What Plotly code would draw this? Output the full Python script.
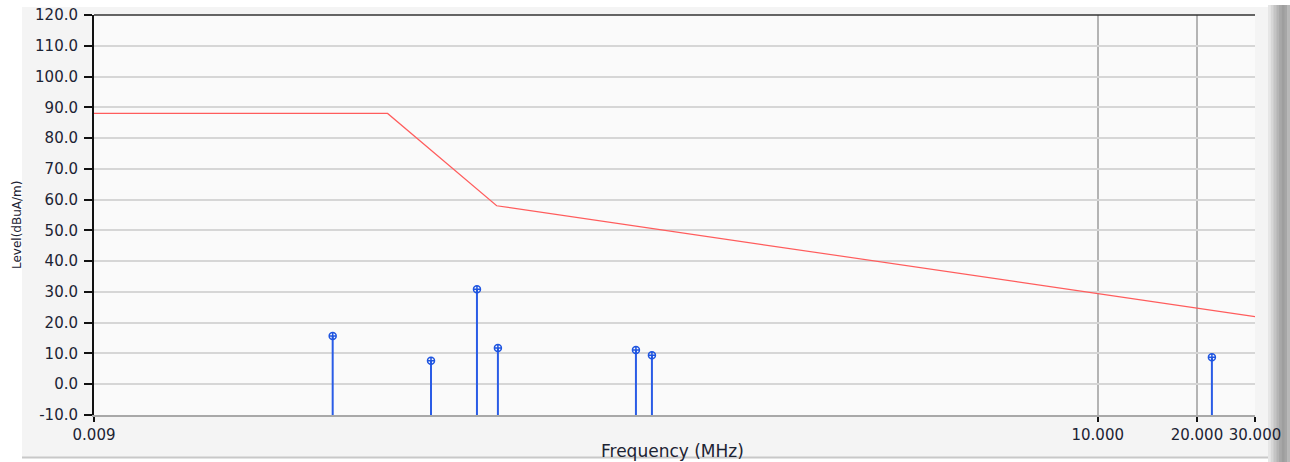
import math
import plotly.graph_objects as go

# ---- data ----
limit_freq = [0.009, 0.07, 0.15, 30.0]
limit_level = [88.0, 88.0, 58.0, 22.0]

peak_freq = [0.0477, 0.0948, 0.1307, 0.1513, 0.3969, 0.4438, 22.2]
peak_level = [15.7, 7.6, 30.9, 11.8, 11.1, 9.4, 8.8]

y_ticks = [-10, 0, 10, 20, 30, 40, 50, 60, 70, 80, 90, 100, 110, 120]
x_ticks = [0.009, 10, 20, 30]
x_tick_labels = ["0.009", "10.000", "20.000", "30.000"]

Y_MIN, Y_MAX = -10, 120
X_MIN, X_MAX = 0.009, 30.0

# ---- figure ----
fig = go.Figure()

# stems
sx, sy = [], []
for f, v in zip(peak_freq, peak_level):
    sx += [f, f, None]
    sy += [Y_MIN, v, None]
fig.add_trace(go.Scatter(x=sx, y=sy, mode="lines",
                         line=dict(color="#2a5ce6", width=2),
                         hoverinfo="skip", showlegend=False))
fig.add_trace(go.Scatter(x=peak_freq, y=peak_level, mode="markers",
                         marker=dict(symbol="circle-cross-open", size=7,
                                     color="#1f55e0", line=dict(width=1.5, color="#1f55e0")),
                         showlegend=False))

# limit line
fig.add_trace(go.Scatter(x=limit_freq, y=limit_level, mode="lines",
                         line=dict(color="#ff5c5c", width=1.2),
                         showlegend=False))

W, H = 1290, 462
L, R, T, B = 94, 35, 15, 47
pw = W - L - R
ph = H - T - B

def px_x(x):
    return (x - L) / pw

def px_y(y):
    return (H - B - y) / ph

tick_font = dict(family="DejaVu Sans, Verdana, sans-serif", size=15, color="#1c2333")

shapes = [
    # panel background
    dict(type="rect", xref="paper", yref="paper", layer="below",
         x0=px_x(22), x1=px_x(1268), y0=px_y(457), y1=px_y(7),
         fillcolor="#f4f4f4", line=dict(width=0)),
    # plot area background
    dict(type="rect", xref="paper", yref="paper", layer="below",
         x0=0, x1=1, y0=0, y1=1,
         fillcolor="#fafafa", line=dict(width=0)),
    # bottom panel line
    dict(type="line", xref="paper", yref="paper", layer="below",
         x0=px_x(22), x1=px_x(1268), y0=px_y(457.5), y1=px_y(457.5),
         line=dict(color="#c8c8c8", width=2)),
    # top border of plot
    dict(type="line", xref="paper", yref="paper",
         x0=0, x1=1, y0=1, y1=1, line=dict(color="#333333", width=1.5)),
]
# right-side gradient strip
grad = ["#e6e6e6", "#d6d6d6", "#c4c4c4", "#b4b4b4", "#a8a8a8", "#9e9e9e", "#a6a6a6", "#b8b8b8"]
x0 = 1268
for i, c in enumerate(grad):
    shapes.append(dict(type="rect", xref="paper", yref="paper", layer="below",
                       x0=px_x(x0 + i * 2.75), x1=px_x(x0 + (i + 1) * 2.75 + 0.5),
                       y0=px_y(462), y1=px_y(5),
                       fillcolor=c, line=dict(width=0)))

fig.update_layout(
    width=W, height=H,
    margin=dict(l=L, r=R, t=T, b=B, autoexpand=False),
    paper_bgcolor="#ffffff",
    plot_bgcolor="#fafafa",
    shapes=shapes,
    xaxis=dict(
        type="log",
        range=[math.log10(X_MIN), math.log10(X_MAX)],
        tickvals=x_ticks, ticktext=x_tick_labels,
        showgrid=True, gridcolor="#b4b4b4", gridwidth=2,
        ticks="outside", ticklen=5, tickwidth=2, tickcolor="#111111",
        showline=True, linecolor="#a8a8a8", linewidth=2,
        zeroline=False, tickfont=tick_font, automargin=False,
    ),
    yaxis=dict(
        range=[Y_MIN, Y_MAX],
        tickvals=y_ticks, ticktext=[f"{v:.1f}" for v in y_ticks],
        showgrid=True, gridcolor="#d6d6d6", gridwidth=1.5,
        ticks="outside", ticklen=8, tickwidth=1.5, tickcolor="#111111",
        showline=True, linecolor="#111111", linewidth=2,
        zeroline=False, tickfont=tick_font, ticklabelstandoff=3, automargin=False,
    ),
    annotations=[
        dict(text="Level(dBuA/m)", xref="paper", yref="paper",
             x=px_x(17), y=px_y(225), textangle=-90, showarrow=False,
             xanchor="center", yanchor="middle",
             font=dict(family="DejaVu Sans, Verdana, sans-serif", size=12, color="#1c2333")),
        dict(text="Frequency (MHz)", xref="paper", yref="paper",
             x=px_x(672), y=px_y(451), showarrow=False,
             xanchor="center", yanchor="middle",
             font=dict(family="DejaVu Sans, Verdana, sans-serif", size=17, color="#1c2333")),
    ],
)

fig.write_html("out.html")
